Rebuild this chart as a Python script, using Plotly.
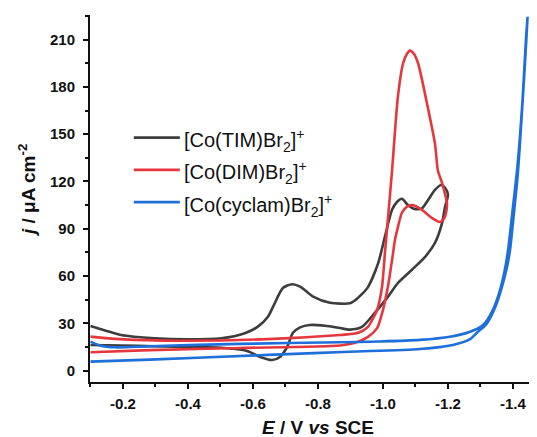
import plotly.graph_objects as go

# ---- data (E in V vs SCE, j in uA cm^-2) ----
tim_E = [-0.100, -0.145, -0.194, -0.298, -0.400, -0.502, -0.575, -0.615, -0.646, -0.662,
         -0.692, -0.720, -0.745, -0.785, -0.837, -0.898, -0.914, -0.935, -0.954, -0.985,
         -1.006, -1.028, -1.043, -1.058, -1.077, -1.098, -1.120, -1.138, -1.160, -1.178,
         -1.191, -1.200,
         -1.191, -1.182, -1.160, -1.129, -1.089, -1.046, -1.015, -0.975, -0.935, -0.898,
         -0.868, -0.822, -0.775, -0.745, -0.723, -0.705, -0.683, -0.659, -0.622, -0.582,
         -0.502, -0.400, -0.246, -0.100]
tim_j = [28.3, 25.5, 22.6, 20.5, 19.9, 20.5, 23.7, 27.9, 34.2, 40.6,
         52.4, 54.8, 53.3, 47.0, 43.1, 42.7, 44.6, 48.5, 53.0, 68.0,
         85.0, 102.0, 107.0, 109.0, 105.0, 102.5, 103.0, 108.0, 114.6, 117.8,
         116.0, 111.5,
         104.0, 93.7, 81.0, 72.0, 64.0, 55.6, 46.8, 36.6, 27.7, 26.0,
         27.0, 28.5, 29.0, 27.5, 24.0, 15.0, 8.7, 6.8, 8.7, 12.5,
         14.5, 15.0, 15.7, 16.3]

dim_E = [-0.100, -0.191, -0.369, -0.646, -0.868, -0.914, -0.935, -0.954, -0.969, -0.982,
         -0.997, -1.006, -1.015, -1.028, -1.046, -1.062, -1.074, -1.083, -1.095, -1.108,
         -1.135, -1.160, -1.169, -1.182, -1.191, -1.197, -1.194, -1.188, -1.175, -1.151,
         -1.120, -1.092, -1.074, -1.058, -1.046, -1.037, -1.031, -1.022, -1.015, -1.000,
         -0.982, -0.954, -0.923, -0.868, -0.560, -0.283, -0.100]
dim_j = [21.6, 20.0, 19.0, 20.0, 22.6, 23.5, 25.0, 27.7, 33.0, 38.5,
         53.0, 74.5, 95.6, 127.0, 173.8, 195.0, 201.0, 203.0, 201.0, 195.0,
         170.0, 144.0, 127.0, 119.0, 112.0, 106.0, 100.0, 96.5, 94.3, 96.8,
         102.0, 105.0, 104.0, 100.0, 91.0, 83.0, 74.5, 62.0, 53.0, 38.5,
         27.0, 21.4, 18.3, 16.0, 14.4, 13.0, 11.7]

cyc_E = [-0.100, -0.283, -0.646, -0.898, -1.114, -1.215, -1.268, -1.289, -1.320, -1.345,
         -1.366, -1.382, -1.391, -1.403, -1.415, -1.428, -1.437, -1.445,
         -1.440, -1.429, -1.414, -1.398, -1.385, -1.375, -1.360, -1.338, -1.308,
         -1.268, -1.206, -1.114, -0.991, -0.868, -0.560, -0.283, -0.175, -0.129, -0.100]
cyc_j = [5.7, 7.0, 10.0, 12.0, 13.7, 16.3, 20.0, 24.0, 30.0, 40.0,
         53.0, 66.0, 76.5, 100.0, 125.0, 165.0, 195.0, 224.5,
         210.0, 170.0, 130.0, 100.0, 76.5, 64.0, 51.0, 38.5, 29.0,
         24.7, 21.5, 19.5, 18.5, 18.0, 17.0, 15.5, 14.8, 16.0, 18.4]

names = ["[Co(TIM)Br<sub>2</sub>]<sup>+</sup>",
         "[Co(DIM)Br<sub>2</sub>]<sup>+</sup>",
         "[Co(cyclam)Br<sub>2</sub>]<sup>+</sup>"]
colors = ["#3d3d3d", "#e5373d", "#1e6fd9"]

x_tick_vals = [-0.2, -0.4, -0.6, -0.8, -1.0, -1.2, -1.4]
x_tick_text = ["-0.2", "-0.4", "-0.6", "-0.8", "-1.0", "-1.2", "-1.4"]
y_tick_vals = [0, 30, 60, 90, 120, 150, 180, 210]

x_title = "<i>E</i> / V <i>vs</i> SCE"
y_title = "<i>j</i> / μA cm<sup>-2</sup>"

FONT = "Liberation Sans, Arial, sans-serif"
INK = "#111111"

fig = go.Figure()
for E, j, c, n in [(tim_E, tim_j, colors[0], names[0]),
                   (dim_E, dim_j, colors[1], names[1]),
                   (cyc_E, cyc_j, colors[2], names[2])]:
    fig.add_trace(go.Scatter(x=E, y=j, mode="lines", name=n, showlegend=False,
                             line=dict(color=c, width=2.6, shape="spline", smoothing=0.7)))

# manual legend (paper coordinates)
leg_line_y = [0.666, 0.578, 0.490]
for yy, c, n in zip(leg_line_y, colors, names):
    fig.add_shape(type="line", xref="paper", yref="paper", x0=0.098, x1=0.201, y0=yy, y1=yy,
                  line=dict(color=c, width=2.6))
    fig.add_annotation(xref="paper", yref="paper", x=0.205, y=yy, yshift=-3, text=n,
                       showarrow=False, xanchor="left", yanchor="middle",
                       font=dict(family=FONT, size=20, color=INK))

# axis titles
fig.add_annotation(xref="paper", yref="paper", x=0.510, y=-0.123, text=x_title,
                   showarrow=False, xanchor="center", yanchor="middle",
                   font=dict(family=FONT, size=19, weight="bold", color=INK))
fig.add_annotation(xref="paper", yref="paper", x=-0.141, y=0.523, text=y_title,
                   showarrow=False, xanchor="center", yanchor="middle", textangle=-90,
                   font=dict(family=FONT, size=19, weight="bold", color=INK))

# page body has an 8px margin: the figure is sized so the plot lands where the reference has it
fig.update_layout(
    width=529, height=429,
    margin=dict(l=82, r=0, t=7, b=55, autoexpand=False),
    paper_bgcolor="white", plot_bgcolor="white",
    font=dict(family=FONT, color=INK),
)
fig.update_xaxes(
    range=[-0.0985, -1.474], automargin=False,
    tickvals=x_tick_vals, ticktext=x_tick_text,
    ticks="outside", ticklen=5, tickwidth=2, tickcolor=INK,
    minor=dict(dtick=0.1, tick0=0, ticks="outside", ticklen=3, tickwidth=2, tickcolor=INK),
    showline=True, linewidth=2, linecolor=INK, mirror=False,
    showgrid=False, zeroline=False, ticklabelstandoff=2,
    tickfont=dict(family=FONT, size=15, weight="bold", color=INK),
)
fig.update_yaxes(
    range=[-7.2, 225.6], automargin=False,
    tickvals=y_tick_vals,
    ticks="outside", ticklen=5, tickwidth=2, tickcolor=INK,
    minor=dict(dtick=15, tick0=0, ticks="outside", ticklen=3, tickwidth=2, tickcolor=INK),
    showline=True, linewidth=2, linecolor=INK, mirror=False,
    showgrid=False, zeroline=False, ticklabelstandoff=5,
    tickfont=dict(family=FONT, size=15, weight="bold", color=INK),
)

fig.write_html("out.html")
